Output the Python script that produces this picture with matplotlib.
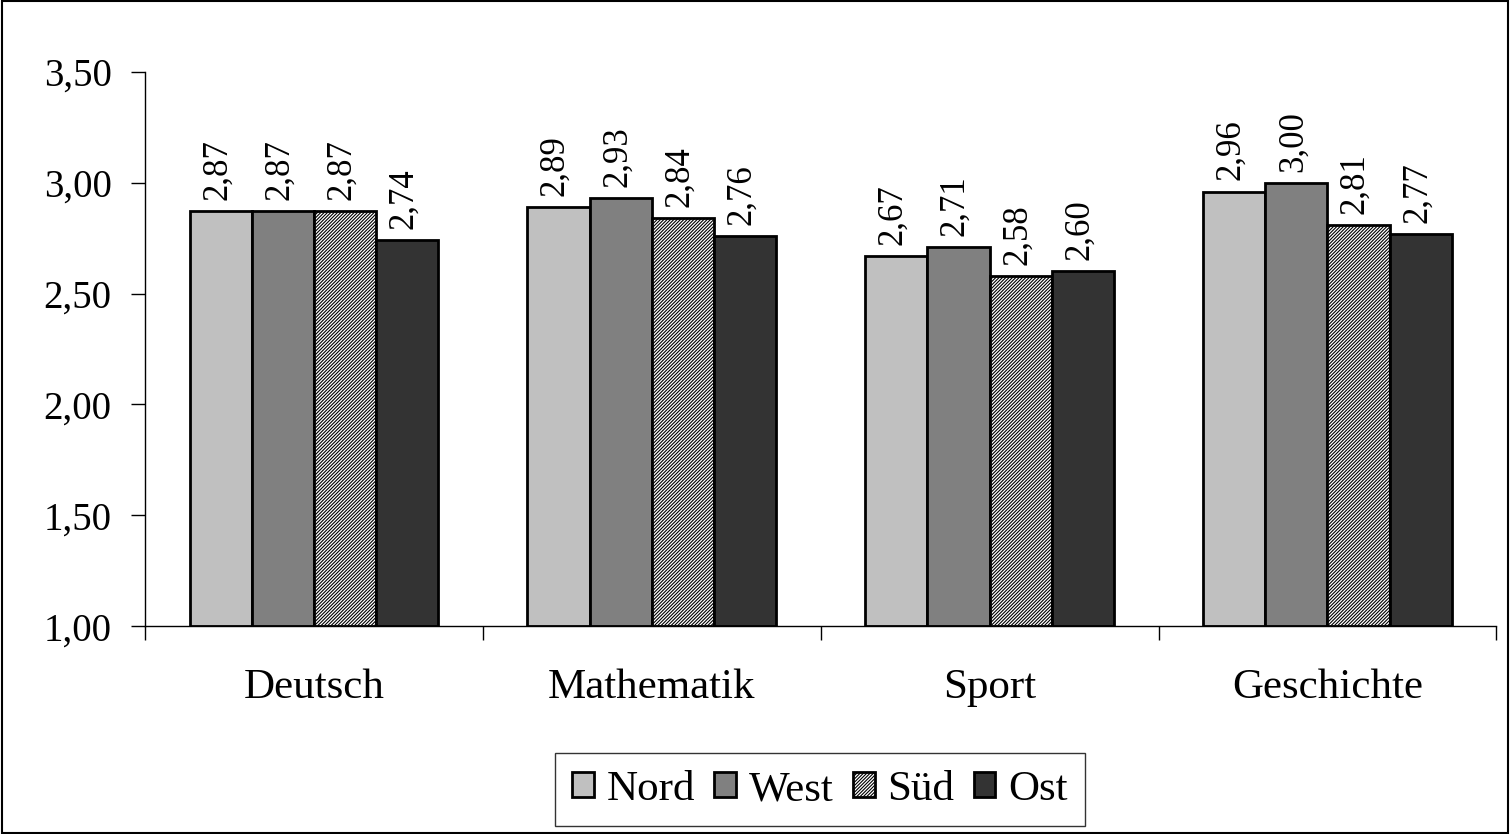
import numpy as np
import matplotlib.pyplot as plt
import matplotlib.ticker as mticker

# data
categories = ['Deutsch', 'Mathematik', 'Sport', 'Geschichte']
series = ['Nord', 'West', 'Süd', 'Ost']
nord = [2.87, 2.89, 2.67, 2.96]
west = [2.87, 2.93, 2.71, 3.00]
sued = [2.87, 2.84, 2.58, 2.81]
ost = [2.74, 2.76, 2.60, 2.77]

colors = ['#c0c0c0', '#808080', 'white', '#333333']
hatches = [None, None, '//////////', None]

plt.rcParams['font.family'] = ['Liberation Serif', 'DejaVu Serif']
plt.rcParams['hatch.linewidth'] = 0.8

fig = plt.figure(figsize=(15.1, 8.34), dpi=100)
ax = fig.add_axes([0.096, 0.249, 0.895, 0.665])

x = np.arange(len(categories))
w = 0.184
for i, (vals, c, h, name) in enumerate(zip([nord, west, sued, ost], colors, hatches, series)):
    pos = x + (i - 1.5) * w
    ax.bar(pos, np.array(vals) - 1.0, w, bottom=1.0, color=c, hatch=h,
           edgecolor='black', linewidth=2, label=name)
    for p, v in zip(pos, vals):
        ax.text(p - 0.01, v + 0.05, ('%.2f' % v).replace('.', ','), rotation=90,
                ha='center', va='bottom', fontsize=25)

ax.set_ylim(1.0, 3.5)
ax.set_xlim(-0.5, len(categories) - 0.5)
ax.yaxis.set_major_locator(mticker.MultipleLocator(0.5))
ax.yaxis.set_major_formatter(mticker.FuncFormatter(lambda v, p: ('%.2f' % v).replace('.', ',')))
ax.set_xticks(x)
ax.set_xticklabels(categories, fontsize=31)
ax.set_xticks(np.arange(len(categories) + 1) - 0.5, minor=True)
ax.tick_params(axis='x', which='major', length=0, pad=30)
ax.tick_params(axis='x', which='minor', length=10, width=1, direction='out')
ax.tick_params(axis='y', labelsize=28, length=10, width=1, direction='out', pad=14)
ax.spines['top'].set_visible(False)
ax.spines['right'].set_visible(False)
ax.spines['left'].set_linewidth(1)
ax.spines['bottom'].set_linewidth(1)

leg = fig.legend(loc='center', bbox_to_anchor=(0.543, 0.053), ncol=4, fontsize=31,
                 frameon=True, fancybox=False, edgecolor='black', handlelength=0.5,
                 handleheight=0.5, handletextpad=0.3, columnspacing=0.45,
                 borderpad=0.4)
leg.get_frame().set_linewidth(1)

# outer border
fig.patches.append(plt.Rectangle((0.001, 0.001), 0.998, 0.998, transform=fig.transFigure,
                                 fill=False, edgecolor='black', linewidth=1.5))

fig.savefig('out.png', dpi=100)
